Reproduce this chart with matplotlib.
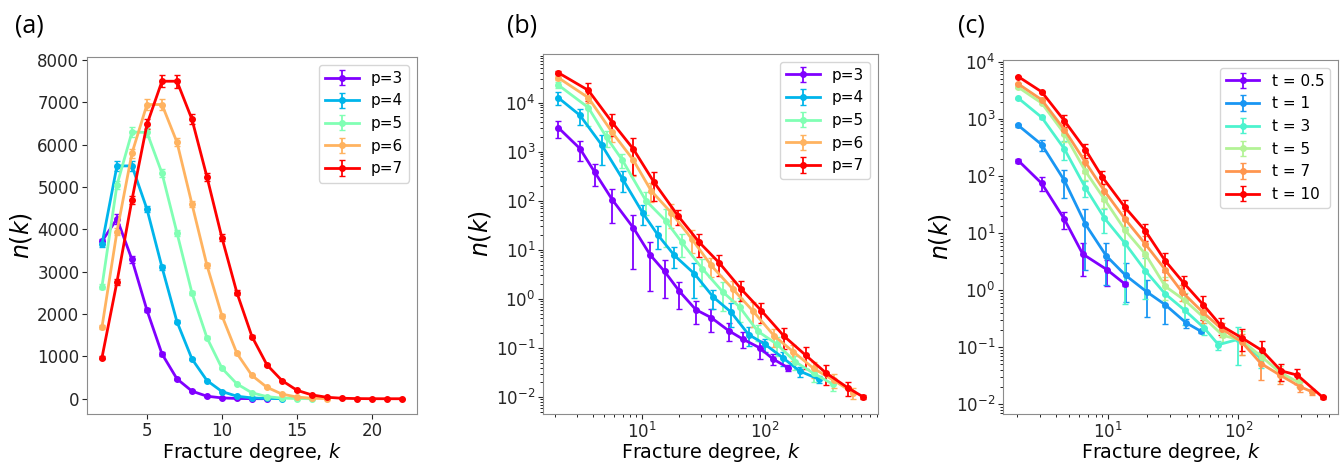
import matplotlib
matplotlib.use("Agg")
import matplotlib.pyplot as plt
from matplotlib.ticker import NullFormatter
import numpy as np

# ---------------- panel (a): linear, p = 3..7 ----------------
a_labels = ["p=3", "p=4", "p=5", "p=6", "p=7"]
a_k = [list(range(2, 14)), list(range(2, 15)), list(range(2, 17)),
       list(range(2, 18)), list(range(2, 23))]
a_n = [
    [3720, 4250, 3290, 2090, 1060, 470, 180, 60, 20, 6, 2, 1],
    [3650, 5500, 5500, 4480, 3110, 1820, 940, 430, 170, 60, 20, 6, 2],
    [2650, 5050, 6300, 6290, 5330, 3920, 2500, 1440, 720, 350, 140, 50, 15, 5, 1],
    [1690, 3950, 5800, 6950, 6950, 6060, 4600, 3150, 1960, 1070, 550, 270, 110, 40, 12, 3],
    [970, 2760, 4700, 6480, 7500, 7500, 6600, 5240, 3800, 2500, 1470, 800, 430,
     200, 90, 35, 12, 4, 1, 0.5, 0.2],
]
a_err = [
    [60, 120, 80, 50, 40, 25, 15, 8, 4, 2, 1, 0.5],
    [70, 110, 110, 80, 60, 40, 25, 15, 8, 4, 2, 1, 0.5],
    [60, 100, 110, 110, 90, 70, 50, 35, 20, 10, 6, 3, 1, 0.5, 0.2],
    [50, 90, 110, 130, 120, 100, 80, 60, 45, 30, 20, 10, 6, 3, 1, 0.5],
    [40, 80, 100, 120, 140, 150, 120, 100, 80, 60, 45, 30, 20, 12, 8, 4, 2, 1, 0.5, 0.2, 0.1],
]

# ---------------- panel (b): log-log, p = 3..7 ----------------
b_labels = ["p=3", "p=4", "p=5", "p=6", "p=7"]
b_k = [
    [2.11, 3.16, 4.18, 5.78, 8.56, 11.7, 15.3, 20.2, 27.4, 36.5, 50.5, 65.5, 89.9, 115, 153],
    [2.11, 3.16, 4.74, 7.01, 10.2, 13.5, 18.4, 26.7, 38.1, 52.7, 73.3, 99.0, 139, 190, 271],
    [2.11, 3.70, 5.20, 6.97, 10.8, 15.6, 21.1, 31.0, 45.4, 62.0, 86.8, 124, 175, 247, 354],
    [2.11, 3.70, 5.78, 8.56, 11.9, 17.3, 25.4, 36.5, 54.4, 79.4, 118, 169, 246, 358, 513],
    [2.11, 3.70, 5.78, 8.56, 12.6, 19.8, 29.2, 42.6, 63.8, 92.9, 142, 212, 309, 465, 615],
]
b_n = [
    [3100, 1160, 378, 105, 28.1, 7.92, 3.64, 1.43, 0.605, 0.416, 0.226, 0.153, 0.101, 0.0602, 0.0395],
    [12600, 5530, 1380, 277, 56.5, 20.2, 7.69, 3.26, 1.08, 0.543, 0.188, 0.120, 0.0631, 0.0338, 0.0232],
    [22900, 7910, 1950, 675, 101, 39.5, 14.3, 4.12, 1.38, 0.686, 0.220, 0.120, 0.0524, 0.0303, 0.0182],
    [32200, 12600, 2460, 675, 161, 57.5, 16.8, 4.81, 1.61, 0.569, 0.177, 0.0835, 0.0384, 0.0220, 0.0123],
    [40700, 17800, 3930, 1130, 237, 48.3, 14.3, 5.37, 1.59, 0.578, 0.174, 0.0715, 0.0313, 0.0155, 0.0102],
]
b_err = [
    [1200, 500, 180, 70, 24, 6.5, 2.6, 0.8, 0.3, 0.2, 0.09, 0.055, 0.04, 0.015, 0.005],
    [3700, 2000, 850, 125, 25, 10, 3.5, 2.2, 0.45, 0.27, 0.08, 0.036, 0.02, 0.008, 0.004],
    [3000, 4600, 700, 220, 50, 28, 7, 2.3, 0.8, 0.35, 0.08, 0.05, 0.017, 0.01, 0.005],
    [3000, 3000, 850, 350, 65, 30, 8, 2, 0.7, 0.3, 0.07, 0.03, 0.014, 0.007, 0.003],
    [3000, 7000, 1800, 800, 140, 16, 7, 2.5, 0.7, 0.25, 0.08, 0.035, 0.014, 0.005, 0.001],
]

# ---------------- panel (c): log-log, t = 0.5..10 ----------------
c_labels = ["t = 0.5", "t = 1", "t = 3", "t = 5", "t = 7", "t = 10"]
c_k = [
    [2.04, 3.09, 4.61, 6.38, 9.77, 13.4],
    [2.04, 3.09, 4.61, 6.69, 9.65, 13.6, 19.8, 27.5, 39.6, 51.7],
    [2.04, 3.09, 4.61, 6.69, 9.37, 13.5, 19.3, 27.4, 38.9, 54.7, 70.2, 100, 149],
    [2.04, 3.09, 4.61, 6.69, 9.37, 13.5, 19.3, 27.4, 38.9, 53.8, 75.6, 106, 151, 209, 290],
    [2.04, 3.09, 4.61, 6.69, 9.37, 13.4, 19.3, 27.4, 36.7, 53.1, 74.4, 106, 149, 209, 298, 365],
    [2.04, 3.09, 4.61, 6.69, 8.99, 13.4, 19.3, 27.4, 38.2, 53.8, 73.1, 107, 151, 213, 284, 444],
]
c_n = [
    [186, 73.9, 17.5, 4.29, 2.29, 1.29],
    [767, 353, 83.4, 14.3, 4.01, 1.82, 0.934, 0.553, 0.269, 0.190],
    [2300, 1060, 297, 62.1, 18.2, 6.58, 2.19, 0.861, 0.441, 0.217, 0.111, 0.138, 0.0636],
    [3570, 1880, 549, 121, 38.9, 11.2, 4.29, 1.17, 0.66, 0.337, 0.162, 0.132, 0.068, 0.0362, 0.0243],
    [4080, 2150, 646, 174, 54.4, 17.9, 6.4, 2.29, 0.946, 0.413, 0.211, 0.124, 0.0519, 0.0325, 0.0204, 0.0167],
    [5480, 2960, 926, 289, 96.6, 28.6, 10.9, 3.27, 1.32, 0.553, 0.242, 0.145, 0.0886, 0.0387, 0.0325, 0.0133],
]
c_err = [
    [15, 20, 5.5, 2.5, 1.1, 0.1],
    [40, 80, 42, 12, 2.8, 1.2, 0.6, 0.3, 0.05, 0.01],
    [60, 80, 105, 20, 8, 6, 1.5, 0.35, 0.2, 0.05, 0.02, 0.09, 0.02],
    [70, 100, 150, 35, 12, 5, 2.2, 0.5, 0.25, 0.1, 0.04, 0.06, 0.02, 0.01, 0.004],
    [80, 120, 120, 60, 18, 6, 2.5, 0.8, 0.3, 0.15, 0.06, 0.05, 0.025, 0.01, 0.004, 0.002],
    [90, 150, 220, 80, 25, 10, 3.5, 1.2, 0.45, 0.25, 0.08, 0.06, 0.04, 0.013, 0.01, 0.001],
]

fig = plt.figure(figsize=(13.42, 4.62), dpi=100)
ax_a = fig.add_axes([0.0648, 0.1030, 0.2459, 0.7734])
ax_b = fig.add_axes([0.4046, 0.1040, 0.2496, 0.7791])
ax_c = fig.add_axes([0.7474, 0.1040, 0.2496, 0.7662])


def draw(ax, ks, ns, errs, labels):
    colors = plt.cm.rainbow(np.linspace(0, 1, len(labels)))
    for k, n, e, lab, col in zip(ks, ns, errs, labels, colors):
        ax.errorbar(k, n, yerr=e, fmt='-o', color=col, ms=4, lw=2,
                    elinewidth=1.3, capsize=2, label=lab)


def log_ticks(ax, axis, lo, hi):
    # only ticks inside the visible range
    major = [10.0 ** e for e in range(-4, 6) if lo <= 10.0 ** e <= hi]
    minor = [m * 10.0 ** e for e in range(-4, 6) for m in range(2, 10)
             if lo <= m * 10.0 ** e <= hi]
    a = ax.xaxis if axis == 'x' else ax.yaxis
    a.set_ticks(major)
    a.set_ticks(minor, minor=True)
    a.set_minor_formatter(NullFormatter())


draw(ax_a, a_k, a_n, a_err, a_labels)
draw(ax_b, b_k, b_n, b_err, b_labels)
draw(ax_c, c_k, c_n, c_err, c_labels)

ax_a.set_ylim(-370, 8070)
ax_a.set_yticks(np.arange(0, 8001, 1000))
ax_a.set_xticks([5, 10, 15, 20])

for ax in (ax_b, ax_c):
    ax.set_xscale('log')
    ax.set_yscale('log')
ax_b.set_ylim(10 ** -2.344, 10 ** 4.99)
ax_c.set_ylim(10 ** -2.167, 10 ** 4.03)
for ax in (ax_b, ax_c):
    x0, x1 = ax.get_xlim()
    y0, y1 = ax.get_ylim()
    log_ticks(ax, 'x', x0, x1)
    log_ticks(ax, 'y', y0, y1)
    ax.set_xlim(x0, x1)
    ax.set_ylim(y0, y1)

for ax in (ax_a, ax_b, ax_c):
    ax.set_xlabel('Fracture degree, $k$', fontsize=13.8)
    # same pixel offset below every axes (~27 px)
    ax.xaxis.set_label_coords(0.5, -27 / ax.bbox.height)
    ax.set_ylabel('$n(k)$', fontsize=17, labelpad=2)
    ax.tick_params(labelsize=12, colors='0.15', pad=2)
    for s in ax.spines.values():
        s.set_color('0.55')
    ax.legend(loc='upper right', fontsize=11, handlelength=2.2,
              borderaxespad=0.5, labelspacing=0.5)

for x, t in [(0.011, '(a)'), (0.378, '(b)'), (0.714, '(c)')]:
    fig.text(x, 0.93, t, fontsize=18, family='Open Sans')

plt.savefig('out.png', dpi=100)
